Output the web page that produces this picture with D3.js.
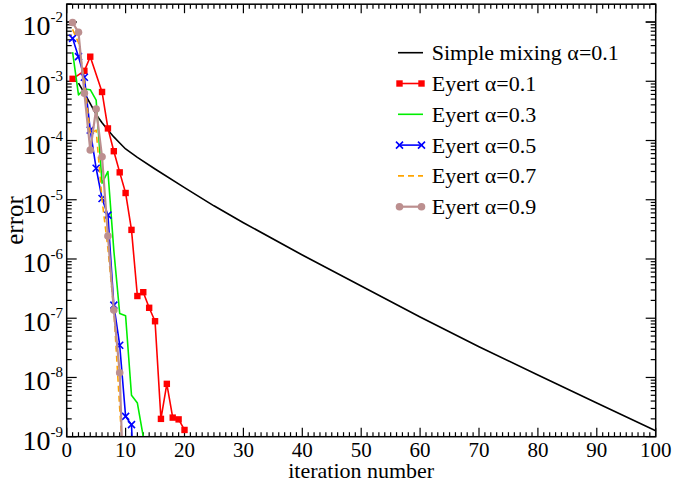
<!DOCTYPE html>
<html>
<head>
<meta charset="utf-8">
<script src="https://cdn.jsdelivr.net/npm/d3@7"></script>
<style>
  body { margin: 0; background: #fff; }
  text { font-family: "Liberation Serif", "Times New Roman", serif; fill: #000; }
</style>
</head>
<body>
<svg width="675" height="484"></svg>
<script>
// iteration numbers and errors
var simpleIter = [2, 3, 4, 5, 6, 7, 8, 9, 10, 12, 15, 20, 25, 30, 40, 50, 60, 70, 80, 90, 100];
var simpleErr = [9.3e-4, 6.3e-4, 4.2e-4, 2.75e-4, 2.0e-4, 1.5e-4, 1.15e-4, 9.1e-5, 7.2e-5, 5.2e-5, 3.3e-5,
    1.6e-5, 7.9e-6, 4.1e-6, 1.17e-6, 3.5e-7, 1.05e-7, 3.3e-8, 1.1e-8, 3.7e-9, 1.26e-9];

var eyert01Iter = [1, 3, 4, 6, 7, 8, 9, 10, 11, 12, 13, 14, 15, 16, 17, 18, 19, 20];
var eyert01Err = [1.1e-3, 1.5e-3, 2.6e-3, 6.6e-4, 1.6e-4, 6.6e-5, 2.9e-5, 1.3e-5, 3.1e-6,
    2.37e-7, 2.75e-7, 1.5e-7, 8.9e-8, 2.0e-9, 7.8e-9, 2.1e-9, 1.96e-9, 1.3e-9];

var eyert03Iter = [1, 2, 3, 4, 5, 6, 7, 8, 9, 10, 11, 12, 13];
var eyert03Err = [3.1e-3, 5.9e-4, 7.4e-4, 7.2e-4, 4.8e-4, 1.9e-5, 3.0e-5, 1.4e-6, 1.2e-7, 1.1e-7, 5.0e-9, 3.7e-9, 1.0e-9];

var eyert05Iter = [1, 2, 3, 4, 5, 6, 7, 8, 9, 10, 11, 12];
var eyert05Err = [5.3e-3, 2.6e-3, 1.17e-3, 1.5e-4, 3.4e-5, 1.05e-5, 5.5e-6, 1.66e-7, 3.5e-8, 2.2e-9, 1.6e-9, 1e-11];

var eyert07Iter = [1, 2, 3, 4, 5, 6, 7, 8, 9, 10];
var eyert07Err = [7.5e-3, 4.5e-3, 1.0e-3, 1.3e-4, 1.5e-4, 1.0e-5, 1.5e-6, 1.4e-7, 3.0e-9, 1e-10];

var eyert09Iter = [1, 2, 3, 4, 5, 6, 7, 8, 9, 10];
var eyert09Err = [9.8e-3, 6.7e-3, 6.3e-4, 6.9e-5, 3.4e-4, 5.3e-5, 2.45e-6, 1.37e-7, 1.2e-8, 1e-11];

var xTicks = [0, 10, 20, 30, 40, 50, 60, 70, 80, 90, 100];
var yExponents = [-9, -8, -7, -6, -5, -4, -3, -2];

var legendLabels = ["Simple mixing \u03b1=0.1", "Eyert \u03b1=0.1", "Eyert \u03b1=0.3",
    "Eyert \u03b1=0.5", "Eyert \u03b1=0.7", "Eyert \u03b1=0.9"];

var svg = d3.select("svg");
var pLeft = 66.7, pRight = 655.7, pTop = 4.2, pBottom = 436.7;

var x = d3.scaleLinear().domain([0, 100]).range([pLeft, pRight]);
var y = d3.scaleLog().domain([1e-9, 0.02]).range([pBottom, pTop]);

function zip(iters, errs) {
    return iters.map(function (d, i) { return {it: d, err: errs[i]}; });
}

var series = [
    {data: zip(simpleIter, simpleErr), color: "#000000", width: 1.6, marker: "none"},
    {data: zip(eyert01Iter, eyert01Err), color: "#ff0000", width: 1.6, marker: "square"},
    {data: zip(eyert03Iter, eyert03Err), color: "#00ee00", width: 1.6, marker: "none"},
    {data: zip(eyert05Iter, eyert05Err), color: "#0000ff", width: 1.6, marker: "x"},
    {data: zip(eyert07Iter, eyert07Err), color: "#ffa500", width: 1.6, marker: "none", dash: "6,4"},
    {data: zip(eyert09Iter, eyert09Err), color: "#bc8f8f", width: 2.2, marker: "circle"}
];

svg.append("clipPath").attr("id", "plotclip")
    .append("rect").attr("x", pLeft).attr("y", pTop)
    .attr("width", pRight - pLeft).attr("height", pBottom - pTop);

// ticks (all inward, on all four sides)
var ticksG = svg.append("g").attr("stroke", "#000").attr("stroke-width", 1.2);
d3.range(0, 101, 1).forEach(function (v) {
    var len = v % 10 === 0 ? 9 : 4.5;
    ticksG.append("line").attr("x1", x(v)).attr("x2", x(v)).attr("y1", pBottom).attr("y2", pBottom - len);
    ticksG.append("line").attr("x1", x(v)).attr("x2", x(v)).attr("y1", pTop).attr("y2", pTop + len);
});
var yMinor = [];
d3.range(-9, -1).forEach(function (e) {
    d3.range(1, 10).forEach(function (m) {
        yMinor.push({v: m * Math.pow(10, e), major: m === 1});
    });
});
yMinor.push({v: 0.01, major: true});
yMinor.push({v: 0.02, major: false});
yMinor.forEach(function (t) {
    var len = t.major ? 10 : 5;
    ticksG.append("line").attr("x1", pLeft).attr("x2", pLeft + len).attr("y1", y(t.v)).attr("y2", y(t.v));
    ticksG.append("line").attr("x1", pRight).attr("x2", pRight - len).attr("y1", y(t.v)).attr("y2", y(t.v));
});

// series lines
var line = d3.line()
    .x(function (d) { return x(d.it); })
    .y(function (d) { return y(d.err); });

var plotG = svg.append("g").attr("clip-path", "url(#plotclip)");

function drawMarker(g, type, color, cx, cy) {
    if (type === "square") {
        g.append("rect").attr("x", cx - 3.2).attr("y", cy - 3.2).attr("width", 6.4).attr("height", 6.4)
            .attr("fill", color);
    } else if (type === "x") {
        g.append("path").attr("d", "M" + (cx - 3.5) + "," + (cy - 3.5) + "L" + (cx + 3.5) + "," + (cy + 3.5) +
            "M" + (cx - 3.5) + "," + (cy + 3.5) + "L" + (cx + 3.5) + "," + (cy - 3.5))
            .attr("stroke", color).attr("stroke-width", 1.6).attr("fill", "none");
    } else if (type === "circle") {
        g.append("circle").attr("cx", cx).attr("cy", cy).attr("r", 3.8).attr("fill", color);
    }
}

series.forEach(function (s) {
    plotG.append("path").datum(s.data)
        .attr("d", line)
        .attr("fill", "none")
        .attr("stroke", s.color)
        .attr("stroke-width", s.width)
        .attr("stroke-dasharray", s.dash || null)
        .attr("stroke-linejoin", "round");
    if (s.marker !== "none") {
        s.data.forEach(function (d) {
            if (d.err >= 1e-9) drawMarker(plotG, s.marker, s.color, x(d.it), y(d.err));
        });
    }
});

// frame
svg.append("rect").attr("x", pLeft).attr("y", pTop)
    .attr("width", pRight - pLeft).attr("height", pBottom - pTop)
    .attr("fill", "none").attr("stroke", "#000").attr("stroke-width", 1.5);

// tick labels
svg.append("g").selectAll("text").data(xTicks).enter().append("text")
    .attr("x", function (d) { return x(d); })
    .attr("y", 457)
    .attr("text-anchor", "middle")
    .attr("font-size", 21)
    .text(function (d) { return d; });

var yLab = svg.append("g").selectAll("text").data(yExponents).enter().append("text")
    .attr("x", 63)
    .attr("y", function (d) { return y(Math.pow(10, d)) + 13; })
    .attr("text-anchor", "end");
yLab.append("tspan").attr("font-size", 28).text("10");
yLab.append("tspan").attr("font-size", 15).attr("dy", -13)
    .text(function (d) { return "-" + (-d); });

// axis titles
svg.append("text").attr("x", (pLeft + pRight) / 2).attr("y", 478)
    .attr("text-anchor", "middle").attr("font-size", 22).text("iteration number");
svg.append("text")
    .attr("transform", "translate(23," + ((pTop + pBottom) / 2) + ") rotate(-90)")
    .attr("text-anchor", "middle").attr("font-size", 25).text("error");

// legend
var legend = svg.append("g");
legendLabels.forEach(function (label, i) {
    var s = series[i];
    var cy = 52.7 + i * 30.8;
    legend.append("line").attr("x1", 398).attr("x2", 423).attr("y1", cy).attr("y2", cy)
        .attr("stroke", s.color).attr("stroke-width", s.width)
        .attr("stroke-dasharray", s.dash || null);
    if (s.marker !== "none") {
        drawMarker(legend, s.marker, s.color, 399.5, cy);
        drawMarker(legend, s.marker, s.color, 421.5, cy);
    }
    legend.append("text").attr("x", 431.7).attr("y", cy + 7.5)
        .attr("font-size", 22).text(label);
});
</script>
</body>
</html>
